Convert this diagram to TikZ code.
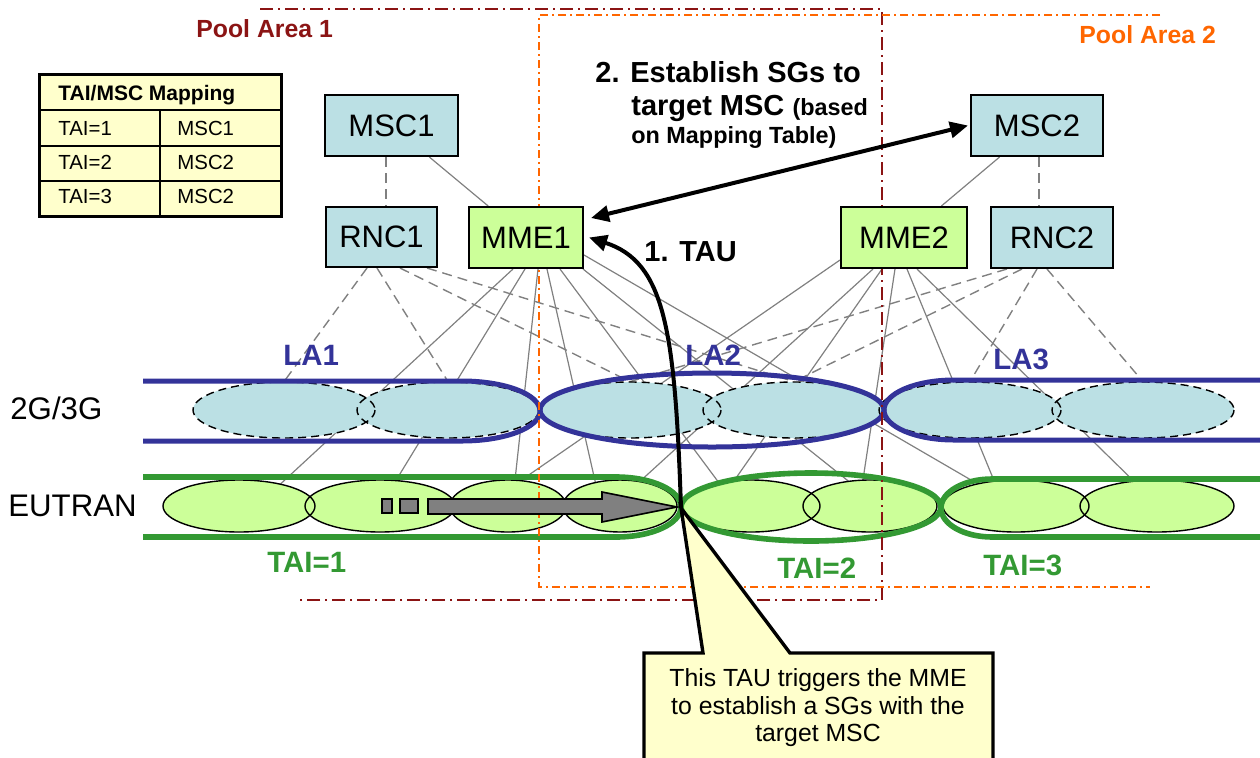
\documentclass[tikz,border=0pt]{standalone}
\usepackage{fontspec}
\setmainfont{Liberation Sans}
\usetikzlibrary{shapes.geometric,arrows.meta}

\definecolor{boxblue}{RGB}{187,224,228}
\definecolor{cellgreen}{RGB}{204,255,153}
\definecolor{notey}{RGB}{255,255,204}
\definecolor{lablue}{RGB}{51,51,153}
\definecolor{taigreen}{RGB}{51,153,51}
\definecolor{poolred}{RGB}{139,20,20}
\definecolor{poolorange}{RGB}{255,102,0}
\definecolor{linkgray}{RGB}{128,128,128}

\pgfdeclarelayer{background}
\pgfdeclarelayer{foreground}
\pgfsetlayers{background,main,foreground}

\begin{document}
\begin{tikzpicture}[x=0.5pt,y=-0.5pt,
	netbox/.style={draw,line width=1pt,inner sep=0pt,minimum height=30.5pt,font=\fontsize{15.5}{18}\selectfont},
	mscbox/.style={netbox,fill=boxblue},
	mmebox/.style={netbox,fill=cellgreen},
	utrancell/.style={ellipse,fill=boxblue,inner sep=0pt,minimum width=91pt,minimum height=28pt},
	eutrancell/.style={ellipse,fill=cellgreen,inner sep=0pt,minimum height=26pt},
	cellrim/.style={black,line width=0.7pt},
	iulink/.style={linkgray,line width=0.7pt,dash pattern=on 5pt off 3pt},
	s1link/.style={linkgray,line width=0.6pt},
	laline/.style={lablue,line width=2.5pt},
	tailine/.style={taigreen,line width=2.8pt},
	poolone/.style={poolred,line width=1pt,dash pattern=on 6.5pt off 2.5pt on 1pt off 2.5pt},
	pooltwo/.style={poolorange,line width=1pt,dash pattern=on 4pt off 2pt on 1pt off 2pt},
	txt/.style={anchor=base west,inner sep=0pt},
	msglabel/.style={txt,font=\fontsize{14.5}{17}\selectfont\bfseries},
	msgsmall/.style={txt,font=\fontsize{11.7}{14}\selectfont\bfseries},
	arealabel/.style={txt,font=\fontsize{14.7}{17}\selectfont\bfseries},
	poollabel/.style={txt,font=\fontsize{12.4}{15}\selectfont\bfseries},
	rowlabel/.style={txt,font=\fontsize{15.6}{18}\selectfont},
	tabtext/.style={txt,font=\fontsize{10.2}{12}\selectfont},
	bigtip/.style={line width=2pt,-{Triangle[length=9pt,width=8pt]}},
	]
	\useasboundingbox (0,0) rectangle (1260,757);

	% core nodes
	\begin{pgfonlayer}{foreground}
		\node[mscbox,minimum width=66.5pt] (msc1) at (391.5,125.5) {MSC1};
		\node[mscbox,minimum width=55.5pt,minimum height=30pt] (rnc1) at (381.5,237) {RNC1};
		\node[mmebox,minimum width=57pt] (mme1) at (526,237.5) {MME1};
		\node[mscbox,minimum width=66pt] (msc2) at (1037,125.5) {MSC2};
		\node[mmebox,minimum width=63pt] (mme2) at (904,237.5) {MME2};
		\node[mscbox,minimum width=61pt] (rnc2) at (1052,237.5) {RNC2};
	\end{pgfonlayer}

	% cells
	\foreach \n/\x in {1/284,2/448,3/630,4/794,5/970,6/1143}
		\node[utrancell] (b\n) at (\x,410) {};
	\foreach \n/\x in {1/284,2/448,3/630,4/794,5/970,6/1143}
		\draw[cellrim,dash pattern=on 4pt off 2.5pt] (b\n.center) ellipse[x radius=91,y radius=28];
	\foreach \n/\x/\r in {1/239/76,2/380/75,3/508/58,4/620/57,5/751/69,6/870/67,7/1016/73,8/1157/77}
		\node[eutrancell,minimum width=\r pt] (g\n) at (\x,506) {};
	\foreach \n/\r in {1/76,2/75,3/58,4/57,5/69,6/67,7/73,8/77}
		\draw[cellrim] (g\n.center) ellipse[x radius=\r,y radius=26];

	% links
	\begin{pgfonlayer}{background}
		\draw[iulink] ([xshift=-2.75pt]msc1.south) -- ([xshift=2.25pt]rnc1.north);
		\draw[iulink] ([xshift=1pt]msc2.south) -- ([xshift=-6.5pt]rnc2.north);
		\draw[s1link] (msc1) -- (mme1);
		\draw[s1link] (msc2) -- (mme2);
		\foreach \dx/\n in {-7.25/1,-2.25/2,9.25/3,22.75/4}
			\draw[iulink] ([xshift=\dx pt]rnc1.south) -- (b\n.north);
		\foreach \dx/\n in {-22.5/3,-15/4,-7.5/5,-2.5/6}
			\draw[iulink] ([xshift=\dx pt]rnc2.south) -- (b\n.north);
		\foreach \dx/\n/\a in {-6.5/1/28,-0.5/2/58,6/3/75,10.5/4/136,17/5/144,28.5/6/131}
			\draw[s1link] ([xshift=\dx pt]mme1.south) -- (g\n.\a);
		\draw[s1link] ([yshift=-8.75pt]mme1.east) -- (g7.150);
		\draw[s1link] ([yshift=-11.25pt]mme2.west) -- (g3.63);
		\foreach \dx/\n/\a in {-15.5/4/51,-11/5/123,-4.5/6/105,1.5/7/131,6.5/8/133}
			\draw[s1link] ([xshift=\dx pt]mme2.south) -- (g\n.\a);
	\end{pgfonlayer}

	% location and tracking areas
	\draw[laline] (143,381) -- (462,381) arc[start angle=-90,end angle=90,x radius=78,y radius=30] -- (143,441);
	\draw[laline] (712,410) ellipse[x radius=172,y radius=37];
	\draw[laline] (1262,380) -- (954,380) arc[start angle=-90,end angle=-270,x radius=70,y radius=30] -- (1262,440);
	\draw[tailine] (143,477) -- (616,477) arc[start angle=-90,end angle=90,x radius=65,y radius=30] -- (143,537);
	\draw[tailine] (811,507) ellipse[x radius=130,y radius=34];
	\draw[tailine] (1262,479) -- (992,479) arc[start angle=-90,end angle=-270,x radius=51,y radius=29] -- (1262,537);

	\node[arealabel,lablue] (la1) at (283,365) {LA1};
	\node[arealabel,lablue] (la2) at (685,365) {LA2};
	\node[arealabel,lablue] (la3) at (993,369) {LA3};
	\node[arealabel,taigreen] (tai1) at (267,572) {TAI=1};
	\node[arealabel,taigreen] (tai2) at (777,578) {TAI=2};
	\node[arealabel,taigreen] (tai3) at (983,575) {TAI=3};
	\node[rowlabel] (utran) at (10,419) {2G/3G};
	\node[rowlabel] (eutran) at (8,516) {EUTRAN};

	% pool areas
	\draw[poolone] (260,9) -- (882,9) -- (882,600) -- (297,600);
	\draw[pooltwo] (1160,15) -- (539,15) -- (539,587) -- (1150,587);
	\node[poollabel,poolred] (pool1) at (196,37) {Pool Area 1};
	\node[poollabel,poolorange] (pool2) at (1079,43) {Pool Area 2};

	% UE moving
	\draw[fill=linkgray,line width=0.8pt] (382,499) rectangle (392,513);
	\draw[fill=linkgray,line width=0.8pt] (400,499) rectangle (418,513);
	\draw[fill=linkgray,line width=0.8pt] (428,499) -- (602,499) -- (602,492) -- (677,507)
		-- (602,522) -- (602,514) -- (428,514) -- cycle;

	% mapping table
	\draw[line width=1.5pt,fill=notey] (39,74) rectangle (281,216);
	\draw[line width=1pt] (39,110) -- (281,110) (39,146) -- (281,146) (39,181) -- (281,181) (160,110) -- (160,216);
	\node[tabtext,font=\fontsize{10.5}{12}\selectfont\bfseries] (maphead) at (58,100) {TAI/MSC Mapping};
	\foreach \r/\y/\m in {1/135/MSC1,2/169/MSC2,3/203/MSC2}{
		\node[tabtext] (maptai\r) at (58,\y) {TAI=\r};
		\node[tabtext] (mapmsc\r) at (177,\y) {\m};
	}

	% callout
	\coordinate (calltip) at (681,508);
	\draw[line width=1.7pt,fill=notey] (644,653) -- (703,653) -- (calltip) -- (790,653) -- (993,653)
		-- (993,765) -- (644,765) -- cycle;
	\node[align=center,inner sep=0pt,font=\fontsize{12.4}{13.75}\selectfont] (calltext) at (818,708)
		{This TAU triggers the MME\\to establish a SGs with the\\target MSC};

	% signalling
	\draw[bigtip] (calltip) .. controls (675,330) and (665,262) .. ([shift={(5,0)}]mme1.east);
	\draw[bigtip,{Triangle[length=9pt,width=8pt]}-{Triangle[length=9pt,width=8pt]}]
		([shift={(7,-19.5)}]mme1.east) -- ([shift={(-2,0)}]msc2.west);
	\node[msglabel] (taulabel) at (644,261) {1. TAU};
	\node[msglabel] (sgline1) at (595,82) {2. Establish SGs to};
	\node[msglabel] (sgline2) at (631,115) {target MSC {\fontsize{11.7}{14}\selectfont (based}};
	\node[msgsmall] (sgline3) at (631,143) {on Mapping Table)};
\end{tikzpicture}
\end{document}
